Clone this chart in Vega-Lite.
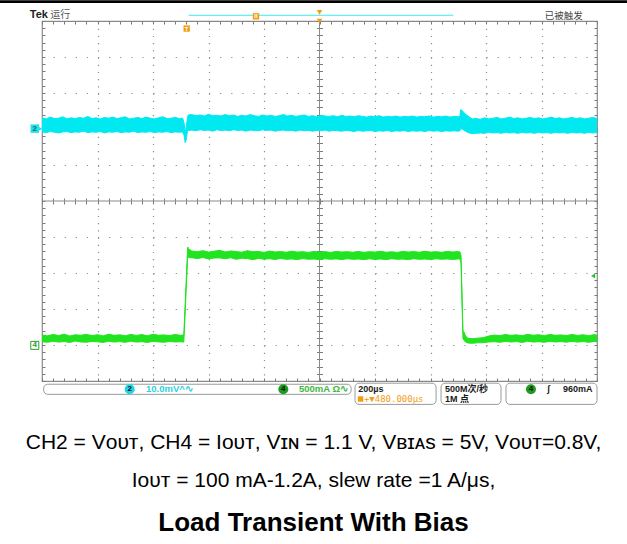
{
  "$schema": "https://vega.github.io/schema/vega-lite/v6.json",
  "width": 555,
  "height": 360,
  "autosize": {"type": "none"},
  "padding": {"left": 42, "top": 21, "right": 30, "bottom": 163},
  "background": "white",
  "config": {"view": {"stroke": "#8a8a8a", "strokeWidth": 1.2}, "font": "Liberation Sans"},
  "title": {
    "text": ["CH2 = Vᴏᴜᴛ, CH4 = Iᴏᴜᴛ, Vɪɴ = 1.1 V, Vʙɪᴀs = 5V, Vᴏᴜᴛ=0.8V,", "Iᴏᴜᴛ = 100 mA-1.2A, slew rate =1 A/μs,"],
    "subtitle": "Load Transient With Bias",
    "orient": "bottom", "anchor": "middle", "offset": 27, "dx": -6,
    "font": "Liberation Sans", "fontSize": 21, "fontWeight": "normal", "color": "#000000", "lineHeight": 38,
    "subtitleFont": "Liberation Sans", "subtitleFontSize": 26, "subtitleFontWeight": "bold", "subtitleColor": "#000000", "subtitlePadding": 19
  },
  "datasets": {
    "ch2": [
      {"t":-520,"hi":3.1,"lo":-0.8},{"t":-505,"hi":2.8,"lo":-1.0},{"t":-490,"hi":3.3,"lo":-0.7},{"t":-475,"hi":2.9,"lo":-0.9},{"t":-460,"hi":3.0,"lo":-1.1},{"t":-445,"hi":3.4,"lo":-0.8},{"t":-430,"hi":2.8,"lo":-0.7},{"t":-415,"hi":3.1,"lo":-1.0},{"t":-400,"hi":2.9,"lo":-0.8},{"t":-385,"hi":3.2,"lo":-0.9},{"t":-370,"hi":3.0,"lo":-0.6},{"t":-355,"hi":3.5,"lo":-1.0},{"t":-340,"hi":2.9,"lo":-0.8},{"t":-325,"hi":3.1,"lo":-0.9},{"t":-310,"hi":2.8,"lo":-0.7},{"t":-295,"hi":3.2,"lo":-1.1},{"t":-280,"hi":3.0,"lo":-0.8},{"t":-265,"hi":3.3,"lo":-0.9},{"t":-250,"hi":2.9,"lo":-0.7},{"t":-235,"hi":3.1,"lo":-1.0},{"t":-220,"hi":3.4,"lo":-0.8},{"t":-205,"hi":2.8,"lo":-0.9},{"t":-190,"hi":3.0,"lo":-0.6},{"t":-175,"hi":3.2,"lo":-1.0},{"t":-160,"hi":2.9,"lo":-0.8},{"t":-145,"hi":3.3,"lo":-0.9},{"t":-130,"hi":3.0,"lo":-0.7},{"t":-115,"hi":2.8,"lo":-1.0},{"t":-100,"hi":3.1,"lo":-0.8},{"t":-85,"hi":3.4,"lo":-0.9},{"t":-70,"hi":2.9,"lo":-0.7},{"t":-55,"hi":3.0,"lo":-1.0},{"t":-40,"hi":3.2,"lo":-0.8},{"t":-25,"hi":2.9,"lo":-0.9},{"t":-13,"hi":3.0,"lo":-0.8},{"t":-8,"hi":1.6,"lo":-1.8},{"t":-4,"hi":-0.6,"lo":-3.8},{"t":-2,"hi":-0.4,"lo":-3.5},{"t":1,"hi":1.2,"lo":-2.2},{"t":4,"hi":3.2,"lo":-0.7},{"t":7,"hi":3.9,"lo":-0.4},{"t":20,"hi":4.0,"lo":-0.3},{"t":35,"hi":3.7,"lo":-0.5},{"t":50,"hi":3.9,"lo":-0.2},{"t":65,"hi":3.6,"lo":-0.4},{"t":80,"hi":4.1,"lo":-0.3},{"t":95,"hi":3.7,"lo":-0.6},{"t":110,"hi":3.8,"lo":-0.2},{"t":125,"hi":3.6,"lo":-0.4},{"t":140,"hi":4.0,"lo":-0.3},{"t":155,"hi":3.7,"lo":-0.5},{"t":170,"hi":3.9,"lo":-0.2},{"t":185,"hi":3.5,"lo":-0.4},{"t":200,"hi":3.8,"lo":-0.3},{"t":215,"hi":3.6,"lo":-0.6},{"t":230,"hi":4.0,"lo":-0.3},{"t":245,"hi":3.7,"lo":-0.4},{"t":260,"hi":3.5,"lo":-0.5},{"t":275,"hi":3.9,"lo":-0.2},{"t":290,"hi":3.6,"lo":-0.4},{"t":305,"hi":3.8,"lo":-0.3},{"t":320,"hi":3.5,"lo":-0.6},{"t":335,"hi":3.7,"lo":-0.4},{"t":350,"hi":4.0,"lo":-0.3},{"t":365,"hi":3.6,"lo":-0.5},{"t":380,"hi":3.8,"lo":-0.4},{"t":395,"hi":3.5,"lo":-0.6},{"t":410,"hi":3.7,"lo":-0.3},{"t":425,"hi":3.9,"lo":-0.5},{"t":440,"hi":3.5,"lo":-0.4},{"t":455,"hi":3.7,"lo":-0.6},{"t":470,"hi":3.4,"lo":-0.4},{"t":485,"hi":3.8,"lo":-0.5},{"t":500,"hi":3.6,"lo":-0.3},{"t":515,"hi":3.5,"lo":-0.6},{"t":530,"hi":3.7,"lo":-0.4},{"t":545,"hi":3.4,"lo":-0.5},{"t":560,"hi":3.8,"lo":-0.6},{"t":575,"hi":3.5,"lo":-0.4},{"t":590,"hi":3.6,"lo":-0.5},{"t":605,"hi":3.4,"lo":-0.7},{"t":620,"hi":3.7,"lo":-0.4},{"t":635,"hi":3.5,"lo":-0.6},{"t":650,"hi":3.3,"lo":-0.5},{"t":665,"hi":3.6,"lo":-0.4},{"t":680,"hi":3.4,"lo":-0.7},{"t":695,"hi":3.7,"lo":-0.5},{"t":710,"hi":3.3,"lo":-0.6},{"t":725,"hi":3.5,"lo":-0.4},{"t":740,"hi":3.4,"lo":-0.7},{"t":755,"hi":3.6,"lo":-0.5},{"t":770,"hi":3.3,"lo":-0.6},{"t":785,"hi":3.5,"lo":-0.4},{"t":800,"hi":3.4,"lo":-0.7},{"t":815,"hi":3.6,"lo":-0.5},{"t":830,"hi":3.3,"lo":-0.6},{"t":845,"hi":3.5,"lo":-0.5},{"t":860,"hi":3.4,"lo":-0.7},{"t":875,"hi":3.6,"lo":-0.4},{"t":890,"hi":3.3,"lo":-0.6},{"t":905,"hi":3.5,"lo":-0.5},{"t":920,"hi":3.4,"lo":-0.7},{"t":935,"hi":3.6,"lo":-0.5},{"t":950,"hi":3.3,"lo":-0.6},{"t":965,"hi":3.5,"lo":-0.5},{"t":980,"hi":3.4,"lo":-0.6},{"t":986,"hi":3.5,"lo":-0.5},{"t":989,"hi":5.4,"lo":0.2},{"t":993,"hi":5.2,"lo":0.0},{"t":1000,"hi":4.6,"lo":-0.3},{"t":1010,"hi":3.9,"lo":-0.8},{"t":1020,"hi":3.3,"lo":-1.1},{"t":1030,"hi":2.8,"lo":-1.3},{"t":1045,"hi":2.9,"lo":-1.2},{"t":1060,"hi":2.7,"lo":-1.1},{"t":1075,"hi":3.1,"lo":-1.2},{"t":1090,"hi":2.8,"lo":-0.9},{"t":1105,"hi":3.0,"lo":-1.1},{"t":1120,"hi":3.2,"lo":-1.0},{"t":1135,"hi":2.8,"lo":-1.2},{"t":1150,"hi":3.0,"lo":-0.9},{"t":1165,"hi":3.3,"lo":-1.1},{"t":1180,"hi":2.9,"lo":-1.0},{"t":1195,"hi":3.1,"lo":-1.2},{"t":1210,"hi":2.8,"lo":-0.9},{"t":1225,"hi":3.0,"lo":-1.1},{"t":1240,"hi":3.2,"lo":-1.0},{"t":1255,"hi":2.9,"lo":-1.2},{"t":1270,"hi":3.1,"lo":-0.9},{"t":1285,"hi":2.8,"lo":-1.1},{"t":1300,"hi":3.0,"lo":-1.0},{"t":1315,"hi":3.3,"lo":-1.2},{"t":1330,"hi":2.9,"lo":-0.9},{"t":1345,"hi":3.1,"lo":-1.1},{"t":1360,"hi":2.8,"lo":-1.0},{"t":1375,"hi":3.0,"lo":-1.2},{"t":1390,"hi":3.2,"lo":-0.9},{"t":1405,"hi":2.9,"lo":-1.1},{"t":1420,"hi":3.1,"lo":-1.0},{"t":1435,"hi":2.8,"lo":-1.2},{"t":1450,"hi":3.0,"lo":-0.9},{"t":1465,"hi":3.2,"lo":-1.1},{"t":1480,"hi":2.9,"lo":-1.0}
    ],
    "ch4": [
      {"t":-520,"hi":140,"lo":45},{"t":-500,"hi":128,"lo":38},{"t":-480,"hi":146,"lo":52},{"t":-460,"hi":132,"lo":40},{"t":-440,"hi":150,"lo":48},{"t":-420,"hi":125,"lo":35},{"t":-400,"hi":142,"lo":55},{"t":-380,"hi":135,"lo":42},{"t":-360,"hi":148,"lo":38},{"t":-340,"hi":130,"lo":50},{"t":-320,"hi":144,"lo":44},{"t":-300,"hi":126,"lo":36},{"t":-280,"hi":150,"lo":52},{"t":-260,"hi":134,"lo":41},{"t":-240,"hi":141,"lo":47},{"t":-220,"hi":128,"lo":37},{"t":-200,"hi":147,"lo":53},{"t":-180,"hi":133,"lo":40},{"t":-160,"hi":145,"lo":46},{"t":-140,"hi":127,"lo":35},{"t":-120,"hi":149,"lo":51},{"t":-100,"hi":136,"lo":43},{"t":-80,"hi":140,"lo":39},{"t":-60,"hi":131,"lo":48},{"t":-40,"hi":146,"lo":42},{"t":-20,"hi":134,"lo":45},{"t":-9,"hi":140,"lo":40},{"t":5,"hi":1361,"lo":1240},{"t":8,"hi":1335,"lo":1215},{"t":20,"hi":1305,"lo":1212},{"t":40,"hi":1296,"lo":1200},{"t":60,"hi":1310,"lo":1215},{"t":80,"hi":1290,"lo":1196},{"t":100,"hi":1302,"lo":1208},{"t":120,"hi":1315,"lo":1210},{"t":140,"hi":1292,"lo":1198},{"t":160,"hi":1306,"lo":1212},{"t":180,"hi":1298,"lo":1190},{"t":200,"hi":1288,"lo":1205},{"t":220,"hi":1310,"lo":1200},{"t":240,"hi":1295,"lo":1185},{"t":260,"hi":1300,"lo":1203},{"t":280,"hi":1285,"lo":1192},{"t":300,"hi":1305,"lo":1198},{"t":320,"hi":1292,"lo":1188},{"t":340,"hi":1298,"lo":1202},{"t":360,"hi":1288,"lo":1190},{"t":380,"hi":1303,"lo":1195},{"t":400,"hi":1290,"lo":1186},{"t":420,"hi":1296,"lo":1200},{"t":440,"hi":1286,"lo":1190},{"t":460,"hi":1300,"lo":1194},{"t":480,"hi":1289,"lo":1186},{"t":500,"hi":1297,"lo":1199},{"t":520,"hi":1285,"lo":1190},{"t":540,"hi":1300,"lo":1196},{"t":560,"hi":1292,"lo":1186},{"t":580,"hi":1296,"lo":1198},{"t":600,"hi":1288,"lo":1190},{"t":620,"hi":1299,"lo":1194},{"t":640,"hi":1287,"lo":1186},{"t":660,"hi":1296,"lo":1197},{"t":680,"hi":1290,"lo":1189},{"t":700,"hi":1301,"lo":1194},{"t":720,"hi":1288,"lo":1186},{"t":740,"hi":1295,"lo":1198},{"t":760,"hi":1286,"lo":1190},{"t":780,"hi":1300,"lo":1193},{"t":800,"hi":1291,"lo":1186},{"t":820,"hi":1297,"lo":1199},{"t":840,"hi":1288,"lo":1190},{"t":860,"hi":1302,"lo":1194},{"t":880,"hi":1290,"lo":1187},{"t":900,"hi":1296,"lo":1198},{"t":920,"hi":1287,"lo":1190},{"t":940,"hi":1300,"lo":1195},{"t":960,"hi":1292,"lo":1188},{"t":980,"hi":1297,"lo":1196},{"t":986,"hi":1293,"lo":1194},{"t":990,"hi":1245,"lo":1135},{"t":997,"hi":190,"lo":85},{"t":1001,"hi":180,"lo":68},{"t":1006,"hi":128,"lo":42},{"t":1015,"hi":92,"lo":28},{"t":1030,"hi":88,"lo":24},{"t":1050,"hi":95,"lo":30},{"t":1070,"hi":102,"lo":33},{"t":1090,"hi":125,"lo":42},{"t":1110,"hi":138,"lo":45},{"t":1130,"hi":130,"lo":38},{"t":1150,"hi":146,"lo":50},{"t":1170,"hi":133,"lo":42},{"t":1190,"hi":141,"lo":47},{"t":1210,"hi":128,"lo":36},{"t":1230,"hi":148,"lo":52},{"t":1250,"hi":135,"lo":41},{"t":1270,"hi":143,"lo":46},{"t":1290,"hi":129,"lo":38},{"t":1310,"hi":147,"lo":50},{"t":1330,"hi":134,"lo":42},{"t":1350,"hi":140,"lo":47},{"t":1370,"hi":131,"lo":39},{"t":1390,"hi":146,"lo":51},{"t":1410,"hi":133,"lo":40},{"t":1430,"hi":142,"lo":48},{"t":1450,"hi":128,"lo":37},{"t":1470,"hi":145,"lo":50},{"t":1480,"hi":136,"lo":44}
    ]
  },
  "layer": [
    {
      "layer": [
        {
          "data": {"values": [{"x": 0}]},
          "mark": {"type": "rule", "color": "#8a8a8a", "strokeWidth": 1},
          "encoding": {
            "x": {"field": "x", "type": "quantitative", "scale": {"domain": [-5, 5], "nice": false, "zero": false},
                  "axis": {"orient": "bottom", "offset": -180, "tickCount": 50, "tickSize": 3, "tickColor": "#7a7a7a", "domain": false, "labels": false, "grid": false, "title": null}}
          }
        },
        {
          "data": {"values": [{"y": 0}]},
          "mark": {"type": "rule", "color": "#8a8a8a", "strokeWidth": 1},
          "encoding": {
            "y": {"field": "y", "type": "quantitative", "scale": {"domain": [-5, 5], "nice": false, "zero": false},
                  "axis": {"orient": "left", "offset": -277.5, "tickCount": 50, "tickSize": 3, "tickColor": "#7a7a7a", "domain": false, "labels": false, "grid": false, "title": null}}
          }
        },
        {
          "data": {"values": [{"x": -5.22, "y": 5.16, "label": "Tek"}]},
          "mark": {"type": "text", "align": "left", "baseline": "middle", "font": "Liberation Sans", "fontSize": 11, "fontWeight": "bold", "color": "#222222"},
          "encoding": {
            "x": {"field": "x", "type": "quantitative", "scale": {"domain": [-5, 5], "nice": false, "zero": false},
                  "axis": {"orient": "top", "offset": -180, "tickCount": 50, "tickSize": 3, "tickColor": "#7a7a7a", "domain": false, "labels": false, "grid": false, "title": null}},
            "y": {"field": "y", "type": "quantitative", "scale": {"domain": [-5, 5], "nice": false, "zero": false},
                  "axis": {"orient": "right", "offset": -277.5, "tickCount": 50, "tickSize": 3, "tickColor": "#7a7a7a", "domain": false, "labels": false, "grid": false, "title": null}},
            "text": {"field": "label"}
          }
        },
        {
          "data": {"values": [{"x": -4.85, "y": 5.16, "label": "运行"}]},
          "mark": {"type": "text", "align": "left", "baseline": "middle", "font": "Noto Sans CJK SC", "fontSize": 10, "color": "#555555"},
          "encoding": {
            "x": {"field": "x", "type": "quantitative", "scale": {"domain": [-5, 5], "nice": false, "zero": false},
                  "axis": {"orient": "bottom", "offset": 0, "tickCount": 50, "tickSize": -3, "tickColor": "#7a7a7a", "domain": false, "labels": false, "grid": false, "title": null}},
            "y": {"field": "y", "type": "quantitative", "scale": {"domain": [-5, 5], "nice": false, "zero": false},
                  "axis": {"orient": "left", "offset": 0, "tickCount": 50, "tickSize": -3, "tickColor": "#7a7a7a", "domain": false, "labels": false, "grid": false, "title": null}},
            "text": {"field": "label"}
          }
        },
        {
          "data": {"values": [{"x": 4.06, "y": 5.14, "label": "已被触发"}]},
          "mark": {"type": "text", "align": "left", "baseline": "middle", "font": "Noto Sans CJK SC", "fontSize": 9.5, "color": "#444444"},
          "encoding": {
            "x": {"field": "x", "type": "quantitative", "scale": {"domain": [-5, 5], "nice": false, "zero": false},
                  "axis": {"orient": "top", "offset": 0, "tickCount": 50, "tickSize": -3, "tickColor": "#7a7a7a", "domain": false, "labels": false, "grid": false, "title": null}},
            "y": {"field": "y", "type": "quantitative", "scale": {"domain": [-5, 5], "nice": false, "zero": false},
                  "axis": {"orient": "right", "offset": 0, "tickCount": 50, "tickSize": -3, "tickColor": "#7a7a7a", "domain": false, "labels": false, "grid": false, "title": null}},
            "text": {"field": "label"}
          }
        },
        {
          "data": {"values": [
            {"x": -4.97, "x2": 0.57, "y": -5.09, "y2": -5.37},
            {"x": 0.64, "x2": 2.10, "y": -5.06, "y2": -5.65},
            {"x": 2.19, "x2": 3.27, "y": -5.06, "y2": -5.65},
            {"x": 3.36, "x2": 5.0, "y": -5.06, "y2": -5.65}
          ]},
          "mark": {"type": "rect", "fill": "white", "stroke": "#9a9a9a", "strokeWidth": 1, "cornerRadius": 4},
          "encoding": {
            "x": {"field": "x", "type": "quantitative", "scale": {"domain": [-5, 5], "nice": false, "zero": false},
                  "axis": {"orient": "bottom", "values": [-4, -3, -2, -1, 1, 2, 3, 4], "ticks": false, "domain": false, "labels": false, "grid": true, "gridColor": "#8c8c8c", "gridDash": [1.2, 6], "gridWidth": 1.2, "title": null}},
            "x2": {"field": "x2"},
            "y": {"field": "y", "type": "quantitative", "scale": {"domain": [-5, 5], "nice": false, "zero": false},
                  "axis": {"orient": "left", "values": [-4, -3, -2, -1, 1, 2, 3, 4], "ticks": false, "domain": false, "labels": false, "grid": true, "gridColor": "#8c8c8c", "gridDash": [1.2, 9.9], "gridWidth": 1.2, "title": null}},
            "y2": {"field": "y2"}
          }
        },
        {
          "data": {"values": [{"x": -5.76, "x2": 5.54, "y": 5.54}]},
          "mark": {"type": "rule", "color": "#000000", "strokeWidth": 2.7},
          "encoding": {
            "x": {"field": "x", "type": "quantitative", "scale": {"domain": [-5, 5], "nice": false, "zero": false}, "axis": null},
            "x2": {"field": "x2"},
            "y": {"field": "y", "type": "quantitative", "scale": {"domain": [-5, 5], "nice": false, "zero": false}, "axis": null}
          }
        },
        {
          "data": {"values": [{"x": -2.36, "x2": 2.41, "y": 5.16}]},
          "mark": {"type": "rule", "color": "#3ee6f0", "strokeWidth": 1},
          "encoding": {
            "x": {"field": "x", "type": "quantitative", "scale": {"domain": [-5, 5], "nice": false, "zero": false}, "axis": null},
            "x2": {"field": "x2"},
            "y": {"field": "y", "type": "quantitative", "scale": {"domain": [-5, 5], "nice": false, "zero": false}, "axis": null}
          }
        },
        {
          "data": {"values": [{"x": -1.144, "y": 5.13}, {"x": -2.393, "y": 4.79}]},
          "mark": {"type": "square", "color": "#f39c12", "filled": true, "size": 40, "opacity": 1},
          "encoding": {
            "x": {"field": "x", "type": "quantitative", "scale": {"domain": [-5, 5], "nice": false, "zero": false}, "axis": null},
            "y": {"field": "y", "type": "quantitative", "scale": {"domain": [-5, 5], "nice": false, "zero": false}, "axis": null}
          }
        },
        {
          "data": {"values": [{"x": 0, "y": 5.24}, {"x": 0, "y": 5.0}]},
          "mark": {"type": "point", "shape": "triangle-down", "color": "#f39c12", "filled": true, "size": 30, "opacity": 1},
          "encoding": {
            "x": {"field": "x", "type": "quantitative", "scale": {"domain": [-5, 5], "nice": false, "zero": false}, "axis": null},
            "y": {"field": "y", "type": "quantitative", "scale": {"domain": [-5, 5], "nice": false, "zero": false}, "axis": null}
          }
        },
        {
          "data": {"values": [{"x": -2.393, "y": 4.79, "label": "T"}, {"x": -1.144, "y": 5.13, "label": "II"}]},
          "mark": {"type": "text", "align": "center", "baseline": "middle", "font": "Liberation Sans", "fontSize": 6, "fontWeight": "bold", "color": "white"},
          "encoding": {
            "x": {"field": "x", "type": "quantitative", "scale": {"domain": [-5, 5], "nice": false, "zero": false}, "axis": null},
            "y": {"field": "y", "type": "quantitative", "scale": {"domain": [-5, 5], "nice": false, "zero": false}, "axis": null},
            "text": {"field": "label"}
          }
        },
        {
          "data": {"values": [{"x": -5.13, "y": 2.01, "ch": "2"}]},
          "mark": {"type": "square", "color": "#1fe3ee", "filled": true, "size": 72, "opacity": 1},
          "encoding": {
            "x": {"field": "x", "type": "quantitative", "scale": {"domain": [-5, 5], "nice": false, "zero": false}, "axis": null},
            "y": {"field": "y", "type": "quantitative", "scale": {"domain": [-5, 5], "nice": false, "zero": false}, "axis": null}
          }
        },
        {
          "data": {"values": [{"x": -5.04, "y": 2.01}]},
          "mark": {"type": "point", "shape": "triangle-right", "color": "#1fe3ee", "filled": true, "size": 36, "opacity": 1},
          "encoding": {
            "x": {"field": "x", "type": "quantitative", "scale": {"domain": [-5, 5], "nice": false, "zero": false}, "axis": null},
            "y": {"field": "y", "type": "quantitative", "scale": {"domain": [-5, 5], "nice": false, "zero": false}, "axis": null}
          }
        },
        {
          "data": {"values": [{"x": -5.13, "y": -4.01}]},
          "mark": {"type": "square", "color": "#2e9e2e", "filled": false, "size": 64, "strokeWidth": 1, "opacity": 1, "fill": "white", "fillOpacity": 1},
          "encoding": {
            "x": {"field": "x", "type": "quantitative", "scale": {"domain": [-5, 5], "nice": false, "zero": false}, "axis": null},
            "y": {"field": "y", "type": "quantitative", "scale": {"domain": [-5, 5], "nice": false, "zero": false}, "axis": null}
          }
        },
        {
          "data": {"values": [{"x": -5.13, "y": 2.01, "label": "2"}]},
          "mark": {"type": "text", "align": "center", "baseline": "middle", "font": "Liberation Sans", "fontSize": 8, "fontWeight": "bold", "color": "#1a6b70"},
          "encoding": {
            "x": {"field": "x", "type": "quantitative", "scale": {"domain": [-5, 5], "nice": false, "zero": false}, "axis": null},
            "y": {"field": "y", "type": "quantitative", "scale": {"domain": [-5, 5], "nice": false, "zero": false}, "axis": null},
            "text": {"field": "label"}
          }
        },
        {
          "data": {"values": [{"x": -5.13, "y": -4.01, "label": "4"}]},
          "mark": {"type": "text", "align": "center", "baseline": "middle", "font": "Liberation Sans", "fontSize": 8, "fontWeight": "bold", "color": "#2e9e2e"},
          "encoding": {
            "x": {"field": "x", "type": "quantitative", "scale": {"domain": [-5, 5], "nice": false, "zero": false}, "axis": null},
            "y": {"field": "y", "type": "quantitative", "scale": {"domain": [-5, 5], "nice": false, "zero": false}, "axis": null},
            "text": {"field": "label"}
          }
        },
        {
          "data": {"values": [{"x": 4.93, "y": -2.08}]},
          "mark": {"type": "point", "shape": "triangle-left", "color": "#22c022", "filled": true, "size": 22, "opacity": 1},
          "encoding": {
            "x": {"field": "x", "type": "quantitative", "scale": {"domain": [-5, 5], "nice": false, "zero": false}, "axis": null},
            "y": {"field": "y", "type": "quantitative", "scale": {"domain": [-5, 5], "nice": false, "zero": false}, "axis": null}
          }
        },
        {
          "data": {"values": [{"x": -3.42, "y": -5.23, "ch": "2"}, {"x": -0.652, "y": -5.23, "ch": "4"}, {"x": 3.81, "y": -5.23, "ch": "4"}]},
          "mark": {"type": "circle", "size": 100, "opacity": 1},
          "encoding": {
            "x": {"field": "x", "type": "quantitative", "scale": {"domain": [-5, 5], "nice": false, "zero": false}, "axis": null},
            "y": {"field": "y", "type": "quantitative", "scale": {"domain": [-5, 5], "nice": false, "zero": false}, "axis": null},
            "color": {"field": "ch", "type": "nominal", "scale": {"domain": ["2", "4"], "range": ["#1fd6e6", "#1d9c1d"]}, "legend": null}
          }
        },
        {
          "data": {"values": [{"x": -3.42, "y": -5.23, "ch": "2"}, {"x": -0.652, "y": -5.23, "ch": "4"}, {"x": 3.81, "y": -5.23, "ch": "4"}]},
          "mark": {"type": "text", "align": "center", "baseline": "middle", "font": "Liberation Sans", "fontSize": 8, "fontWeight": "bold", "color": "#111111"},
          "encoding": {
            "x": {"field": "x", "type": "quantitative", "scale": {"domain": [-5, 5], "nice": false, "zero": false}, "axis": null},
            "y": {"field": "y", "type": "quantitative", "scale": {"domain": [-5, 5], "nice": false, "zero": false}, "axis": null},
            "text": {"field": "ch"}
          }
        },
        {
          "data": {"values": [{"x": -3.126, "y": -5.23, "label": "10.0mV^∿"}]},
          "mark": {"type": "text", "align": "left", "baseline": "middle", "font": "Liberation Sans", "fontSize": 9.5, "fontWeight": "bold", "color": "#2ad2e2"},
          "encoding": {
            "x": {"field": "x", "type": "quantitative", "scale": {"domain": [-5, 5], "nice": false, "zero": false}, "axis": null},
            "y": {"field": "y", "type": "quantitative", "scale": {"domain": [-5, 5], "nice": false, "zero": false}, "axis": null},
            "text": {"field": "label"}
          }
        },
        {
          "data": {"values": [{"x": -0.369, "y": -5.23, "label": "500mA Ω∿"}]},
          "mark": {"type": "text", "align": "left", "baseline": "middle", "font": "Liberation Sans", "fontSize": 9.5, "fontWeight": "bold", "color": "#3cb83c"},
          "encoding": {
            "x": {"field": "x", "type": "quantitative", "scale": {"domain": [-5, 5], "nice": false, "zero": false}, "axis": null},
            "y": {"field": "y", "type": "quantitative", "scale": {"domain": [-5, 5], "nice": false, "zero": false}, "axis": null},
            "text": {"field": "label"}
          }
        },
        {
          "data": {"values": [
            {"x": 0.70, "y": -5.21, "label": "200µs"},
            {"x": 2.26, "y": -5.21, "label": "500M次/秒"},
            {"x": 2.26, "y": -5.50, "label": "1M 点"},
            {"x": 4.10, "y": -5.23, "label": "ʃ"},
            {"x": 4.387, "y": -5.23, "label": "960mA"}
          ]},
          "mark": {"type": "text", "align": "left", "baseline": "middle", "font": "Liberation Sans, Noto Sans CJK SC", "fontSize": 9, "fontWeight": "bold", "color": "#1a1a1a"},
          "encoding": {
            "x": {"field": "x", "type": "quantitative", "scale": {"domain": [-5, 5], "nice": false, "zero": false}, "axis": null},
            "y": {"field": "y", "type": "quantitative", "scale": {"domain": [-5, 5], "nice": false, "zero": false}, "axis": null},
            "text": {"field": "label"}
          }
        },
        {
          "data": {"values": [{"x": 0.74, "y": -5.50}]},
          "mark": {"type": "square", "color": "#f39c12", "filled": true, "size": 30, "opacity": 1},
          "encoding": {
            "x": {"field": "x", "type": "quantitative", "scale": {"domain": [-5, 5], "nice": false, "zero": false}, "axis": null},
            "y": {"field": "y", "type": "quantitative", "scale": {"domain": [-5, 5], "nice": false, "zero": false}, "axis": null}
          }
        },
        {
          "data": {"values": [{"x": 0.80, "y": -5.51, "label": "+▼480.000µs"}]},
          "mark": {"type": "text", "align": "left", "baseline": "middle", "font": "DejaVu Sans Mono", "fontSize": 9, "color": "#f39c12"},
          "encoding": {
            "x": {"field": "x", "type": "quantitative", "scale": {"domain": [-5, 5], "nice": false, "zero": false}, "axis": null},
            "y": {"field": "y", "type": "quantitative", "scale": {"domain": [-5, 5], "nice": false, "zero": false}, "axis": null},
            "text": {"field": "label"}
          }
        }
      ],
      "resolve": {"axis": {"x": "independent", "y": "independent"}}
    },
    {
      "data": {"name": "ch2"},
      "mark": {"type": "area", "color": "#00e8f0", "stroke": "#00e8f0", "strokeWidth": 1, "fillOpacity": 1, "clip": true},
      "encoding": {
        "x": {"field": "t", "type": "quantitative", "scale": {"domain": [-520, 1480], "nice": false, "zero": false}, "axis": null},
        "y": {"field": "hi", "type": "quantitative", "scale": {"domain": [-70, 30], "nice": false, "zero": false}, "axis": null},
        "y2": {"field": "lo"}
      }
    },
    {
      "data": {"name": "ch4"},
      "mark": {"type": "area", "color": "#1fe41f", "stroke": "#1fe41f", "strokeWidth": 1, "fillOpacity": 1, "clip": true},
      "encoding": {
        "x": {"field": "t", "type": "quantitative", "scale": {"domain": [-520, 1480], "nice": false, "zero": false}, "axis": null},
        "y": {"field": "hi", "type": "quantitative", "scale": {"domain": [-500, 4500], "nice": false, "zero": false}, "axis": null},
        "y2": {"field": "lo"}
      }
    }
  ],
  "resolve": {"scale": {"x": "independent", "y": "independent"}}
}
